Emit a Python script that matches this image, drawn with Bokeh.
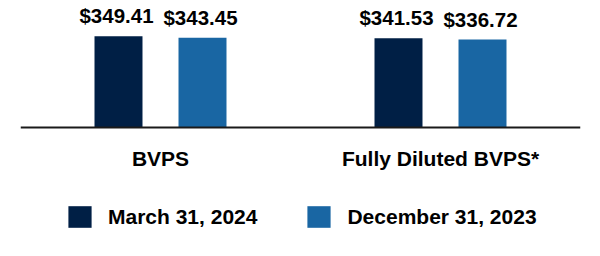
from bokeh.plotting import figure
from bokeh.models import ColumnDataSource, FactorRange, LabelSet, Legend, LegendItem, Range1d, Span
from bokeh.core.properties import value
from bokeh.transform import dodge
from bokeh.embed import file_html
from bokeh.resources import INLINE

categories = ["BVPS", "Fully Diluted BVPS*"]
series_names = ["March 31, 2024", "December 31, 2023"]
mar_2024 = [349.41, 341.53]
dec_2023 = [343.45, 336.72]
colors = ["#001f45", "#1966a3"]

FONT = "Liberation Sans"

src = ColumnDataSource(dict(
    cat=categories,
    a=mar_2024,
    b=dec_2023,
    zero=[0, 0],
    a_lbl=["$%.2f" % v for v in mar_2024],
    b_lbl=["$%.2f" % v for v in dec_2023],
))

p = figure(width=600, height=256, x_range=FactorRange(factors=categories, range_padding=0),
           y_range=Range1d(-493.7, 486), output_backend="svg", toolbar_location=None,
           min_border_left=20, min_border_right=20, min_border_top=0, min_border_bottom=0)

r1 = p.vbar(x=dodge("cat", -0.15, range=p.x_range), top="a", width=0.1714, source=src,
            fill_color=colors[0], line_color=None)
r2 = p.vbar(x=dodge("cat", 0.15, range=p.x_range), top="b", width=0.1714, source=src,
            fill_color=colors[1], line_color=None)

for col, off in (("a", -0.15), ("b", 0.15)):
    p.add_layout(LabelSet(x=dodge("cat", off, range=p.x_range), y=col, text=col + "_lbl", source=src,
                          text_align="center", text_baseline="bottom", y_offset=9, x_offset=-2,
                          text_font=value(FONT), text_font_style="bold", text_font_size="20.5px",
                          text_color="#000000"))

# baseline
p.add_layout(Span(location=0, dimension="width", line_color="#1a1a1a", line_width=2))

# category labels
p.add_layout(LabelSet(x="cat", y="zero", text="cat", source=src, text_align="center",
                      text_baseline="middle", y_offset=-31,
                      text_font=value(FONT), text_font_style="bold", text_font_size="21px",
                      text_color="#000000"))

p.xaxis.visible = False
p.yaxis.visible = False
p.xgrid.visible = False
p.ygrid.visible = False
p.outline_line_color = None
p.background_fill_color = None
p.border_fill_color = "white"

legend = Legend(items=[LegendItem(label=series_names[0], renderers=[r1]),
                       LegendItem(label=series_names[1], renderers=[r2])],
                orientation="horizontal", location=(45, 26),
                glyph_width=29, glyph_height=27, label_standoff=14, spacing=47,
                label_text_font=FONT, label_text_font_style="bold", label_text_font_size="21px",
                label_text_color="#000000", border_line_color=None, background_fill_color=None,
                margin=0, padding=0)
p.add_layout(legend)

open("out.html", "w").write(file_html(p, INLINE))
